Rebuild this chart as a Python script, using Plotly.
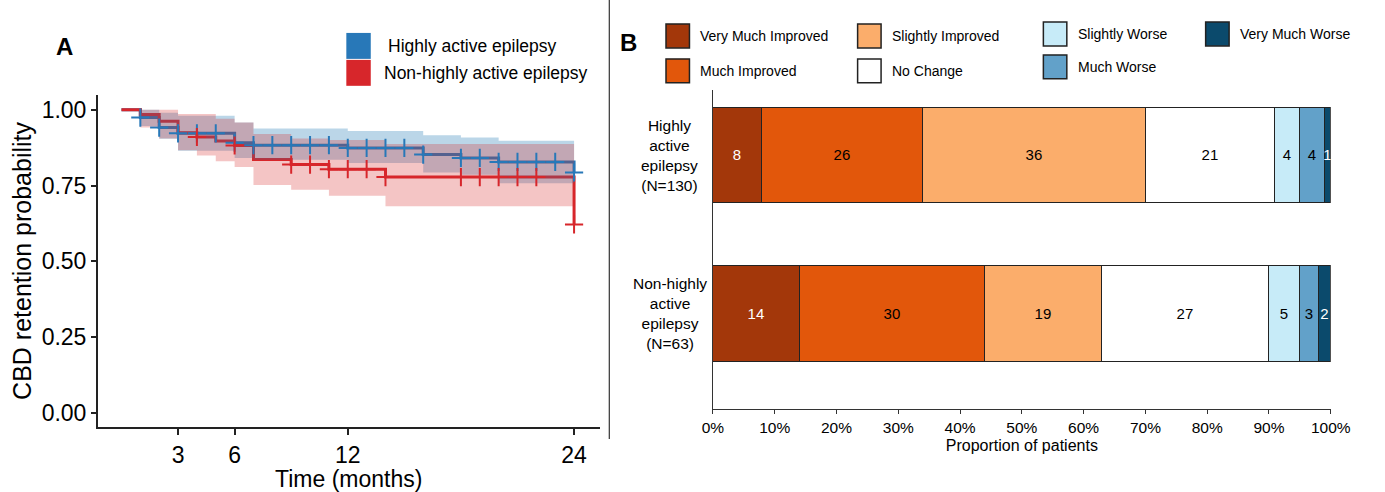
import plotly.graph_objects as go

# ---------------- Panel A data (Kaplan-Meier) ----------------
month_ticks = [3, 6, 12, 24]

hae_time = [0, 1, 2, 3, 6, 7, 12, 16, 18, 20, 24]
hae_surv = [1.0, 0.974, 0.941, 0.922, 0.891, 0.883, 0.874, 0.852, 0.841, 0.828, 0.793]
hae_lower = [1.0, 0.946, 0.904, 0.865, 0.841, 0.835, 0.824, 0.793, 0.786, 0.758, 0.758]
hae_upper = [1.0, 1.0, 0.990, 0.980, 0.958, 0.938, 0.930, 0.916, 0.908, 0.898, 0.898]
hae_censor = [1, 2, 3, 4, 5, 6, 7, 8, 9, 10, 11, 12, 13, 14, 15, 16, 18, 19, 20, 21, 22, 23, 24]

non_time = [0, 1, 2, 3, 4, 5, 6, 7, 9, 11, 14, 24]
non_surv = [1.0, 0.984, 0.962, 0.924, 0.910, 0.897, 0.882, 0.836, 0.819, 0.804, 0.778, 0.622]
non_lower = [1.0, 0.941, 0.905, 0.866, 0.849, 0.830, 0.811, 0.752, 0.736, 0.716, 0.682, 0.682]
non_upper = [1.0, 1.0, 1.0, 0.986, 0.986, 0.970, 0.958, 0.920, 0.905, 0.900, 0.887, 0.887]
non_censor = [4, 6, 9, 10, 11, 12, 13, 14, 18, 19, 20, 21, 22, 24]

km_names = ["Highly active epilepsy", "Non-highly active epilepsy"]

# ---------------- Panel B data (stacked bars) ----------------
groups = ["hae", "non"]
group_labels = ["Highly<br>active<br>epilepsy<br>(N=130)", "Non-highly<br>active<br>epilepsy<br>(N=63)"]
outcomes = ["Very Much Improved", "Much Improved", "Slightly Improved", "No Change",
            "Slightly Worse", "Much Worse", "Very Much Worse"]
hae_pct = [8, 26, 36, 21, 4, 4, 1]
non_pct = [14, 30, 19, 27, 5, 3, 2]
pct_ticks = [0, 10, 20, 30, 40, 50, 60, 70, 80, 90, 100]
pct_labels = [f"{v}%" for v in pct_ticks]

# ---------------- styles ----------------
W, H = 1385, 492
def px(x): return x / W
def py(y): return 1 - y / H

BLUE = "#2878b8"
RED = "#d7262b"
BLUE_FILL = "rgba(31,119,180,0.30)"
RED_FILL = "rgba(214,39,40,0.27)"
out_colors = ["#a3370a", "#e2570b", "#fbad6b", "#ffffff", "#c7ebf8", "#62a1c9", "#0b4a6c"]
out_text = ["white", "black", "black", "black", "black", "black", "white"]
FONT = "Liberation Sans, Arial, sans-serif"


def step_at(ts, ss, t):
    v = ss[0]
    for ti, si in zip(ts, ss):
        if ti <= t:
            v = si
    return v


fig = go.Figure()

# KM lines
for ts, ss, col in [(hae_time, hae_surv, BLUE), (non_time, non_surv, RED)]:
    fig.add_trace(go.Scatter(x=ts, y=ss, mode="lines", line=dict(color=col, width=3, shape="hv"),
                             xaxis="x", yaxis="y", showlegend=False, hoverinfo="skip"))
# CI bands
for ts, lo, hi, fc in [(hae_time, hae_lower, hae_upper, BLUE_FILL), (non_time, non_lower, non_upper, RED_FILL)]:
    fig.add_trace(go.Scatter(x=ts, y=lo, mode="lines", line=dict(width=0, shape="hv"),
                             xaxis="x", yaxis="y", showlegend=False, hoverinfo="skip"))
    fig.add_trace(go.Scatter(x=ts, y=hi, mode="lines", line=dict(width=0, shape="hv"),
                             fill="tonexty", fillcolor=fc,
                             xaxis="x", yaxis="y", showlegend=False, hoverinfo="skip"))
# censor marks
for ts, ss, cens, col in [(hae_time, hae_surv, hae_censor, BLUE), (non_time, non_surv, non_censor, RED)]:
    fig.add_trace(go.Scatter(x=cens, y=[step_at(ts, ss, c) for c in cens], mode="markers",
                             marker=dict(symbol="cross-thin", size=13, line=dict(color=col, width=2)),
                             xaxis="x", yaxis="y", showlegend=False, hoverinfo="skip"))

# Stacked bars
for i, name in enumerate(outcomes):
    vals = [hae_pct[i], non_pct[i]]
    fig.add_trace(go.Bar(y=groups, x=vals, orientation="h", name=name,
                         marker=dict(color=out_colors[i], line=dict(color="#222", width=1)),
                         width=0.6, text=[str(v) for v in vals], textposition="inside",
                         insidetextanchor="middle", textangle=0,
                         textfont=dict(color=out_text[i], size=15, family=FONT),
                         xaxis="x2", yaxis="y2", showlegend=False, hoverinfo="skip"))

annotations = []
shapes = []

# Panel labels
annotations.append(dict(text="<b>A</b>", x=px(44), y=py(31), xref="paper", yref="paper",
                        showarrow=False, font=dict(size=24, color="black", family=FONT)))
annotations.append(dict(text="<b>B</b>", x=px(632), y=py(27), xref="paper", yref="paper",
                        showarrow=False, font=dict(size=24, color="black", family=FONT)))

# Divider
shapes.append(dict(type="line", xref="paper", yref="paper", x0=px(612), x1=px(612), y0=py(0), y1=py(440),
                   line=dict(color="#333", width=1.2)))

# Panel A legend
for k, (name, col) in enumerate(zip(km_names, [BLUE, RED])):
    y0 = 33 + 27 * k
    shapes.append(dict(type="rect", xref="paper", yref="paper", x0=px(343), x1=px(368), y0=py(y0), y1=py(y0 + 26),
                       fillcolor=col, line=dict(width=0)))
    annotations.append(dict(text=name, x=px(384 - 4 * k), y=py(y0 + 13), xref="paper", yref="paper",
                            xanchor="left", yanchor="middle", showarrow=False,
                            font=dict(size=17.5, color="black", family=FONT)))

# Panel B legend (column-major, 2 rows)
leg_pos = [(670, 24), (670, 59), (866, 24), (866, 59), (1056, 22), (1056, 55), (1222, 22)]
for name, col, (lx, ly) in zip(outcomes, out_colors, leg_pos):
    shapes.append(dict(type="rect", xref="paper", yref="paper", x0=px(lx), x1=px(lx + 24), y0=py(ly), y1=py(ly + 24),
                       fillcolor=col, line=dict(color="#222", width=1.5)))
    annotations.append(dict(text=name, x=px(lx + 33), y=py(ly + 12), xref="paper", yref="paper",
                            xanchor="left", yanchor="middle", showarrow=False,
                            font=dict(size=14, color="black", family=FONT)))

# Panel B category labels
for g, lab in zip(groups, group_labels):
    annotations.append(dict(text=lab, x=px(674), y=g, xref="paper", yref="y2", xanchor="center",
                            yanchor="middle", align="center", showarrow=False,
                            font=dict(size=15.5, color="black", family=FONT)))

fig.update_layout(
    width=W, height=H, margin=dict(l=0, r=0, t=0, b=0),
    paper_bgcolor="white", plot_bgcolor="white",
    font=dict(family=FONT, color="black"),
    barmode="stack", bargap=0,
    uniformtext=dict(minsize=15, mode="show"),
    xaxis=dict(domain=[px(89), px(602)], range=[-1.244, 25.35], tickvals=month_ticks,
               showgrid=False, zeroline=False, showline=True, linecolor="#222", linewidth=2,
               ticks="outside", ticklen=6, tickcolor="#222", tickwidth=1.5,
               tickfont=dict(size=23, color="black"),
               title=dict(text="Time (months)", font=dict(size=23, color="black"), standoff=8),
               anchor="y"),
    yaxis=dict(domain=[py(428), py(95)], range=[-0.046, 1.049], tickvals=[0, 0.25, 0.5, 0.75, 1.0],
               tickformat=".2f", showgrid=False, zeroline=False, showline=True, linecolor="#222", linewidth=2,
               ticks="outside", ticklen=5, tickcolor="#222", tickwidth=1.5,
               tickfont=dict(size=23, color="black"),
               title=dict(text="CBD retention probability", font=dict(size=25, color="black"), standoff=3),
               anchor="x"),
    xaxis2=dict(domain=[px(718), px(1350)], range=[0, 100], tickvals=pct_ticks, ticktext=pct_labels,
                showgrid=False, zeroline=False, showline=True, linecolor="#333", linewidth=1,
                ticks="outside", ticklen=4, tickcolor="#333",
                tickfont=dict(size=15.5, color="black"),
                title=dict(text="Proportion of patients", font=dict(size=16, color="black"), standoff=5),
                anchor="y2"),
    yaxis2=dict(domain=[py(410), py(90)], type="category", categoryarray=["non", "hae"],
                range=[-0.6006, 1.412], showticklabels=False, ticks="",
                showgrid=False, zeroline=False, showline=True, linecolor="#333", linewidth=1,
                anchor="x2"),
    annotations=annotations, shapes=shapes,
)

fig.write_html("out.html", config={"displayModeBar": False},
               post_script="document.body.style.margin='0px';document.body.style.overflow='hidden';")
